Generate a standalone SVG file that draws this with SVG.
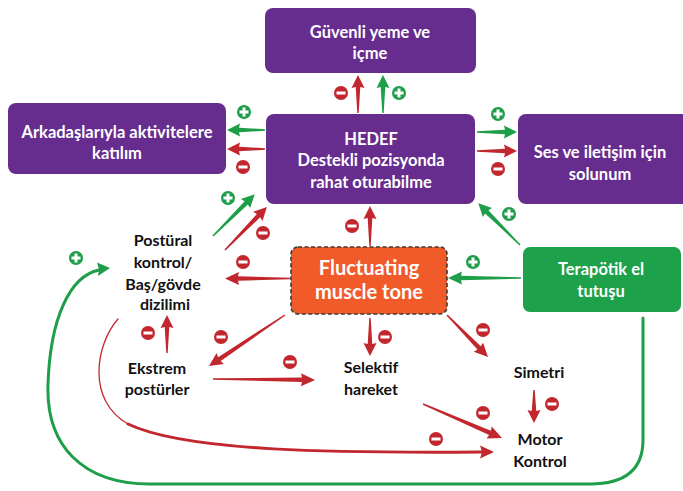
<svg xmlns="http://www.w3.org/2000/svg" xmlns:xlink="http://www.w3.org/1999/xlink" width="683" height="491" viewBox="0 0 683 491">
<style>
.purple{fill:#662D8F}
.bt{font-family:Lato,"Liberation Sans",sans-serif;font-weight:bold;font-size:16.5px;fill:#fff;text-anchor:middle}
.nt{font-family:Lato,"Liberation Sans",sans-serif;font-weight:bold;font-size:16px;fill:#111;text-anchor:middle}
.ft{font-family:Lato,"Liberation Sans",sans-serif;font-weight:bold;font-size:20px;fill:#fff;text-anchor:middle}
.r{fill:#C1272D}
.g{fill:#1E9E48}
.rl{fill:none;stroke:#C1272D;stroke-linecap:round}
.gl{fill:none;stroke:#1E9E48;stroke-width:3;stroke-linecap:round}
</style>
<defs>
<g id="minus"><circle r="7" fill="#C1272D"/><rect x="-4.5" y="-1.5" width="9" height="3" fill="#fff"/></g>
<g id="plus"><circle r="7" fill="#1E9E48"/><rect x="-4.5" y="-1.5" width="9" height="3" fill="#fff"/><rect x="-1.5" y="-4.5" width="3" height="9" fill="#fff"/></g>
</defs>
<rect width="683" height="491" fill="#fff"/>

<g id="guvenli"><rect class="purple" x="265" y="8" width="211" height="65" rx="8"/>
<text class="bt" x="370" y="38">Güvenli yeme ve</text><text class="bt" x="370" y="59">içme</text></g>
<g id="arkadas"><rect class="purple" x="8" y="103" width="218" height="71" rx="8"/>
<text class="bt" x="117" y="138">Arkadaşlarıyla aktivitelere</text><text class="bt" x="117" y="159">katılım</text></g>
<g id="hedef"><rect class="purple" x="266" y="114" width="209" height="90" rx="8"/>
<text class="bt" x="371" y="145">HEDEF</text><text class="bt" x="371" y="166">Destekli pozisyonda</text><text class="bt" x="371" y="188">rahat oturabilme</text></g>
<g id="ses"><rect class="purple" x="518" y="114" width="180" height="90" rx="8"/>
<text class="bt" x="600" y="158">Ses ve iletişim için</text><text class="bt" x="600" y="180">solunum</text></g>
<g id="fluct"><rect x="291" y="247" width="156" height="67" rx="7" fill="#F15A29" stroke="#3A3A3A" stroke-width="1.6" stroke-dasharray="4 2.5"/>
<text class="ft" x="369" y="275">Fluctuating</text><text class="ft" x="369" y="299">muscle tone</text></g>
<g id="terapotik"><rect x="523" y="247" width="158" height="65" rx="7" fill="#1DA14A"/>
<text class="bt" x="601" y="275">Terapötik el</text><text class="bt" x="601" y="297">tutuşu</text></g>
<g id="postural"><text class="nt" x="163" y="246">Postüral</text><text class="nt" x="163" y="268">kontrol/</text><text class="nt" x="163" y="290">Baş/gövde</text><text class="nt" x="165" y="310">dizilimi</text></g>
<g id="ekstrem"><text class="nt" x="157" y="374">Ekstrem</text><text class="nt" x="157" y="395">postürler</text></g>
<g id="selektif"><text class="nt" x="371" y="373">Selektif</text><text class="nt" x="371" y="395">hareket</text></g>
<g id="simetri"><text class="nt" x="539" y="378">Simetri</text></g>
<g id="motor"><text class="nt" x="540" y="445">Motor</text><text class="nt" x="540" y="467">Kontrol</text></g>

<g id="connectors">
<path class="gl" d="M643,318 L643,440 C643,472 622,484 590,484 L150,484 C82,484 46,445 48,385 C50,318 70,276 99,270"/>
<polygon class="g" points="110,268 97,262.5 99,269.5 98,276"/>
<path class="rl" stroke-width="1.3" d="M118,319 C96,344 86,400 128,424"/>
<path class="rl" stroke-width="3" d="M128,424 C186,452 340,453 482,452"/>
<polygon class="r" points="494,452 480,445.5 482,452 480,458.5"/>

<path class="r" transform="translate(358,113) rotate(-90)" d="M0,-0.7 L26,-2.3 L25,-6.5 L38,0 L25,6.5 L26,2.3 L0,0.7Z"/>
<path class="g" transform="translate(383,113) rotate(-90)" d="M0,-0.7 L26,-2.3 L25,-6.5 L38,0 L25,6.5 L26,2.3 L0,0.7Z"/>
<path class="g" transform="translate(265,130) rotate(180)" d="M0,-0.7 L26,-2.3 L25,-6.5 L38,0 L25,6.5 L26,2.3 L0,0.7Z"/>
<path class="r" transform="translate(265,149) rotate(180)" d="M0,-0.7 L26,-2.3 L25,-6.5 L38,0 L25,6.5 L26,2.3 L0,0.7Z"/>
<path class="g" transform="translate(477,132)" d="M0,-0.7 L28,-2.3 L27,-6.5 L40,0 L27,6.5 L28,2.3 L0,0.7Z"/>
<path class="r" transform="translate(477,151)" d="M0,-0.7 L28,-2.3 L27,-6.5 L40,0 L27,6.5 L28,2.3 L0,0.7Z"/>
<path class="g" transform="translate(213,236) rotate(-45)" d="M0,-0.7 L47,-2.3 L46,-6.5 L59,0 L46,6.5 L47,2.3 L0,0.7Z"/>
<path class="r" transform="translate(225,250) rotate(-45.7)" d="M0,-0.7 L48,-2.3 L47,-6.5 L60,0 L47,6.5 L48,2.3 L0,0.7Z"/>
<path class="r" transform="translate(370,246) rotate(-90)" d="M0,-0.7 L28,-2.3 L27,-6.5 L40,0 L27,6.5 L28,2.3 L0,0.7Z"/>
<path class="g" transform="translate(520,245) rotate(-135)" d="M0,-0.7 L47,-2.3 L46,-6.5 L59,0 L46,6.5 L47,2.3 L0,0.7Z"/>
<path class="r" transform="translate(290,278.5) rotate(180)" d="M0,-0.7 L52,-2.3 L51,-6.5 L65,0 L51,6.5 L52,2.3 L0,0.7Z"/>
<path class="g" transform="translate(521,278) rotate(180)" d="M0,-0.7 L60,-2.3 L59,-6.5 L73,0 L59,6.5 L60,2.3 L0,0.7Z"/>
<path class="r" transform="translate(285,315) rotate(146.1)" d="M0,-0.7 L79,-2.3 L78,-6.5 L91.5,0 L78,6.5 L79,2.3 L0,0.7Z"/>
<path class="r" transform="translate(370,318) rotate(90)" d="M0,-0.7 L26,-2.3 L25,-6.5 L38,0 L25,6.5 L26,2.3 L0,0.7Z"/>
<path class="r" transform="translate(447,315) rotate(45.7)" d="M0,-0.7 L46,-2.3 L45,-6.5 L58.7,0 L45,6.5 L46,2.3 L0,0.7Z"/>
<path class="r" transform="translate(167,353) rotate(-90)" d="M0,-0.7 L26,-2.3 L25,-6.5 L38,0 L25,6.5 L26,2.3 L0,0.7Z"/>
<path class="r" transform="translate(213,379) rotate(0.5)" d="M0,-0.7 L89,-2.3 L88,-6.5 L102,0 L88,6.5 L89,2.3 L0,0.7Z"/>
<path class="r" transform="translate(423,404) rotate(23.3)" d="M0,-0.7 L73,-2.3 L72,-6.5 L86,0 L72,6.5 L73,2.3 L0,0.7Z"/>
<path class="r" transform="translate(534,390) rotate(90)" d="M0,-0.7 L21,-2.3 L20,-6.5 L33,0 L20,6.5 L21,2.3 L0,0.7Z"/>

<use xlink:href="#minus" x="341" y="93"/>
<use xlink:href="#plus" x="399" y="93"/>
<use xlink:href="#plus" x="244" y="112"/>
<use xlink:href="#minus" x="243" y="167"/>
<use xlink:href="#plus" x="498" y="114"/>
<use xlink:href="#minus" x="498" y="169"/>
<use xlink:href="#plus" x="228" y="198"/>
<use xlink:href="#minus" x="263" y="233"/>
<use xlink:href="#minus" x="352" y="226"/>
<use xlink:href="#plus" x="509" y="214"/>
<use xlink:href="#minus" x="243" y="262"/>
<use xlink:href="#plus" x="473" y="262"/>
<use xlink:href="#minus" x="148" y="333"/>
<use xlink:href="#minus" x="221" y="337"/>
<use xlink:href="#minus" x="385" y="337"/>
<use xlink:href="#minus" x="483" y="330"/>
<use xlink:href="#minus" x="290" y="362"/>
<use xlink:href="#minus" x="552" y="404"/>
<use xlink:href="#minus" x="483" y="413"/>
<use xlink:href="#minus" x="436" y="439"/>
<use xlink:href="#plus" x="76" y="258"/>
</g>
</svg>
